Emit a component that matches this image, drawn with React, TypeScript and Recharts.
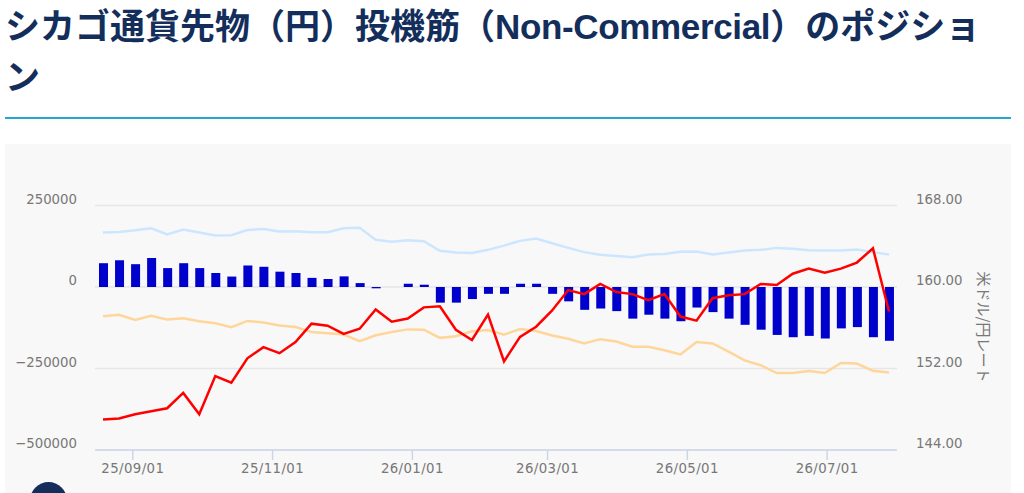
import { Bar, CartesianGrid, ComposedChart, Line, XAxis, YAxis } from "recharts";

const dates = [
  "2025-08-19", "2025-08-26", "2025-09-02", "2025-09-09", "2025-09-16", "2025-09-23", "2025-09-30", "2025-10-07", "2025-10-14", "2025-10-21",
  "2025-10-28", "2025-11-04", "2025-11-11", "2025-11-18", "2025-11-25", "2025-12-02", "2025-12-09", "2025-12-16", "2025-12-23", "2025-12-30",
  "2026-01-06", "2026-01-13", "2026-01-20", "2026-01-27", "2026-02-03", "2026-02-10", "2026-02-17", "2026-02-24", "2026-03-03", "2026-03-10",
  "2026-03-17", "2026-03-24", "2026-03-31", "2026-04-07", "2026-04-14", "2026-04-21", "2026-04-28", "2026-05-05", "2026-05-12", "2026-05-19",
  "2026-05-26", "2026-06-02", "2026-06-09", "2026-06-16", "2026-06-23", "2026-06-30", "2026-07-07", "2026-07-14", "2026-07-21", "2026-07-28",
];

const netPosition = [
  73000, 82000, 70000, 89000, 58000, 73000, 58000, 43000, 32000, 66000,
  62000, 47000, 43000, 28000, 24500, 32600, 12000, -4000, 0, 10000,
  7000, -48000, -48000, -37000, -21000, -21000, 10000, 10000, -21000, -44000,
  -70000, -66000, -74000, -97000, -85000, -97000, -105000, -63000, -77000, -97000,
  -116000, -131000, -147000, -154000, -150000, -158000, -127000, -123000, -154000, -165000,
];

const longPosition = [
  167000, 169000, 174000, 180000, 161000, 176000, 167000, 158000, 159000, 175000,
  178000, 170000, 171000, 168000, 168000, 180000, 182000, 145000, 139000, 143500,
  140500, 111000, 106000, 104000, 114000, 127000, 141500, 148500, 134000, 120000,
  107000, 99000, 95000, 91000, 100000, 101000, 108000, 109000, 100000, 106000,
  112000, 114000, 120000, 117000, 113000, 112000, 112000, 115000, 107000, 100000,
];

const shortPosition = [
  -90000, -85000, -101000, -88000, -100000, -96000, -105000, -111000, -123000, -104000,
  -109000, -118000, -123000, -138000, -142000, -146000, -166000, -148000, -138000, -130000,
  -131000, -156000, -151000, -136000, -132000, -146000, -129000, -135000, -149000, -159000,
  -173000, -160000, -167000, -183000, -183000, -194000, -207000, -169000, -173000, -198000,
  -225000, -240000, -264000, -264000, -258000, -264000, -233000, -235000, -257000, -262000,
];

const usdJpy = [
  147.0, 147.1, 147.5, 147.8, 148.1, 149.6, 147.5, 151.25, 150.6, 153.0,
  154.1, 153.5, 154.6, 156.4, 156.2, 155.4, 155.9, 157.8, 156.6, 156.9,
  158.0, 158.1, 155.8, 154.8, 157.3, 152.7, 155.1, 156.1, 157.7, 159.7,
  159.3, 160.3, 159.5, 159.3, 158.7, 159.3, 157.1, 156.7, 158.9, 159.2,
  159.3, 160.3, 160.2, 161.3, 161.8, 161.4, 161.8, 162.4, 163.8, 157.6,
];

const xTickDates = ["2025-09-01", "2025-11-01", "2026-01-01", "2026-03-01", "2026-05-01", "2026-07-01"];
const leftTicks = [-500000, -250000, 0, 250000];
const rightTicks = [144, 152, 160, 168];

const DAY = 86400000;
const toTime = (s: string) => Date.parse(s + "T00:00:00Z");

const data = dates.map((d, i) => ({
  time: toTime(d),
  net: netPosition[i],
  long: longPosition[i],
  short: shortPosition[i],
  rate: usdJpy[i],
}));

const FONT = "'DejaVu Sans', sans-serif";
const TICK_COLOR = "#777";

const formatDate = (t: number) => {
  const d = new Date(t);
  const yy = String(d.getUTCFullYear()).slice(2);
  const mm = String(d.getUTCMonth() + 1).padStart(2, "0");
  return `${yy}/${mm}/01`;
};

const XTick = (props: any) => {
  const { x, y, payload } = props;
  return (
    <text x={x} y={y + 11} textAnchor="middle" fill={TICK_COLOR} fontSize={13.3} fontFamily={FONT} letterSpacing={0.4}>
      {formatDate(payload.value)}
    </text>
  );
};

const LeftTick = (props: any) => {
  const { y, payload } = props;
  return (
    <text x={72} y={y - 2} textAnchor="end" fill={TICK_COLOR} fontSize={13.3} fontFamily={FONT}>
      {String(payload.value).replace("-", "\u2212")}
    </text>
  );
};

const RightTick = (props: any) => {
  const { y, payload } = props;
  return (
    <text x={911} y={y - 2} textAnchor="start" fill={TICK_COLOR} fontSize={13.3} fontFamily={FONT}>
      {payload.value.toFixed(2)}
    </text>
  );
};

const App = () => {
  return (
    <div style={{ position: "absolute", left: 0, top: 0, width: 1024, height: 493, overflow: "hidden", background: "#fff" }}>
      <div
        style={{
          position: "absolute",
          left: 5,
          top: 1,
          width: 1006,
          fontFamily: "'Liberation Sans', 'Noto Sans CJK JP', sans-serif",
          fontWeight: 700,
          fontSize: 35,
          lineHeight: "51px",
          color: "#142e5c",
        }}
      >
        シカゴ通貨先物（円）投機筋（<span style={{ letterSpacing: -0.35 }}>Non-Commercial</span>）のポジション
      </div>
      <div style={{ position: "absolute", left: 5, top: 117, width: 1006, height: 2, background: "#22a7d0" }} />
      <div style={{ position: "absolute", left: 5, top: 144, width: 1006, height: 349, background: "#f8f8f8" }}>
        <ComposedChart
          width={1006}
          height={349}
          data={data}
          margin={{ top: 61.5, right: 34, bottom: 0, left: 10 }}
          style={{ position: "absolute", left: 0, top: 0 }}
        >
          <CartesianGrid yAxisId="left" vertical={false} stroke="#e6e6e6" strokeWidth={1.5} />
          <XAxis
            dataKey="time"
            type="number"
            scale="linear"
            domain={[toTime(dates[0]) - 3.5 * DAY, toTime(dates[dates.length - 1]) + 3.5 * DAY]}
            ticks={xTickDates.map(toTime)}
            interval={0}
            height={43}
            stroke="#ccd6eb"
            strokeWidth={1.5}
            tickLine={{ stroke: "#ccd6eb" }}
            tickSize={10}
            tick={<XTick />}
          />
          <YAxis
            yAxisId="left"
            width={80}
            domain={[-500000, 250000]}
            ticks={leftTicks}
            interval={0}
            axisLine={false}
            tickLine={false}
            tick={<LeftTick />}
          />
          <YAxis
            yAxisId="right"
            orientation="right"
            width={80}
            domain={[144, 168]}
            ticks={rightTicks}
            interval={0}
            axisLine={false}
            tickLine={false}
            tick={<RightTick />}
          />
          <Bar yAxisId="left" dataKey="net" fill="#0000cc" barSize={9} isAnimationActive={false} />
          <Line yAxisId="left" dataKey="long" stroke="#cce6ff" strokeWidth={2.5} dot={false} type="linear" isAnimationActive={false} />
          <Line yAxisId="left" dataKey="short" stroke="#ffd699" strokeWidth={2.5} dot={false} type="linear" isAnimationActive={false} />
          <Line yAxisId="right" dataKey="rate" stroke="#ff0000" strokeWidth={2.5} dot={false} type="linear" isAnimationActive={false} />
          <text
            x={973}
            y={183}
            transform="rotate(90 973 183)"
            textAnchor="middle"
            fill={TICK_COLOR}
            fontSize={15}
            fontFamily="'Noto Sans CJK JP', sans-serif"
          >
            米ドル/円レート
          </text>
        </ComposedChart>
      </div>
      <div style={{ position: "absolute", left: 30, top: 482, width: 37, height: 37, borderRadius: "50%", background: "#142e5c" }} />
    </div>
  );
};

export default App;
